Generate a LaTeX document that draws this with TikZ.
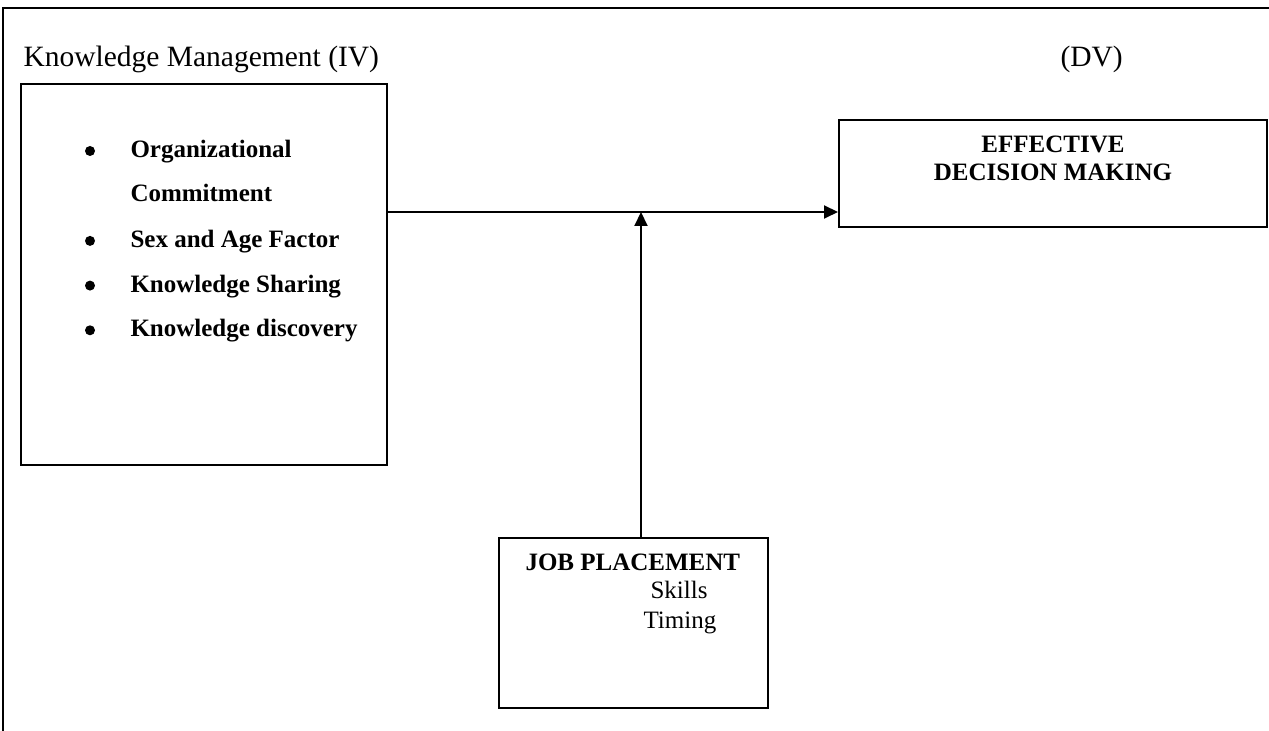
\documentclass[tikz,border=0pt]{standalone}
\usepackage{fontspec}
\setmainfont{Liberation Serif}
\usetikzlibrary{arrows.meta, calc}
\tikzset{
    box/.style={draw, line width=0.8pt, inner sep=0pt},
    link/.style={line width=0.8pt, -{Triangle[length=5.6pt, width=5.2pt]}},
    txt/.style={inner sep=0pt, anchor=base west},
    bigtxt/.style={txt, font=\fontsize{11.8}{14}\selectfont},
    dot/.style={circle, fill, inner sep=0pt, minimum size=4pt},
}
\newcommand{\kmitem}[3]{%
    \node[dot] (#1-dot) at ($(90, #2) + (0, -6.5)$) {};
    \node[txt, font=\bfseries] (#1) at (130, #2) {#3};
}

\begin{document}
\begin{tikzpicture}[x=0.4pt, y=-0.4pt]
\useasboundingbox (0, 0) rectangle (1269, 731);

% frame
\draw[line width=0.8pt] (3, 731) -- (3, 8) -- (1269, 8);

% headings
\node[bigtxt] (ivlabel) at (23, 67) {Knowledge Management (IV)};
\node[bigtxt] (dvlabel) at (1060, 67) {(DV)};

% knowledge management box
\node[box, minimum width=146.4pt, minimum height=152.4pt] (km) at (204, 274.5) {};
\kmitem{org}{157.5}{Organizational}
\node[txt, font=\bfseries] (commit) at (130, 202) {Commitment};
\kmitem{sex}{247.4}{Sex and Age Factor}
\kmitem{share}{292.1}{Knowledge Sharing}
\kmitem{disc}{336.8}{Knowledge discovery}

% decision making box
\node[box, minimum width=171.2pt, minimum height=42.8pt] (dv) at (1053, 173.5) {};
\node[txt, anchor=base, font=\bfseries] (dv1) at (1053, 153) {EFFECTIVE};
\node[txt, anchor=base, font=\bfseries] (dv2) at (1053, 181) {DECISION MAKING};

% job placement box
\node[box, minimum width=107.6pt, minimum height=68pt] (jp) at (633.5, 623) {};
\node[txt, font=\bfseries] (jp1) at (525, 571) {JOB PLACEMENT};
\node[txt] (jp2) at (650, 599) {Skills};
\node[txt] (jp3) at (643, 629) {Timing};

% arrows
\coordinate (join) at (641, 212);
\draw[link] (km.east |- join) -- (dv.west |- join);
\draw[link] (jp.north -| join) -- (join);
\end{tikzpicture}
\end{document}
